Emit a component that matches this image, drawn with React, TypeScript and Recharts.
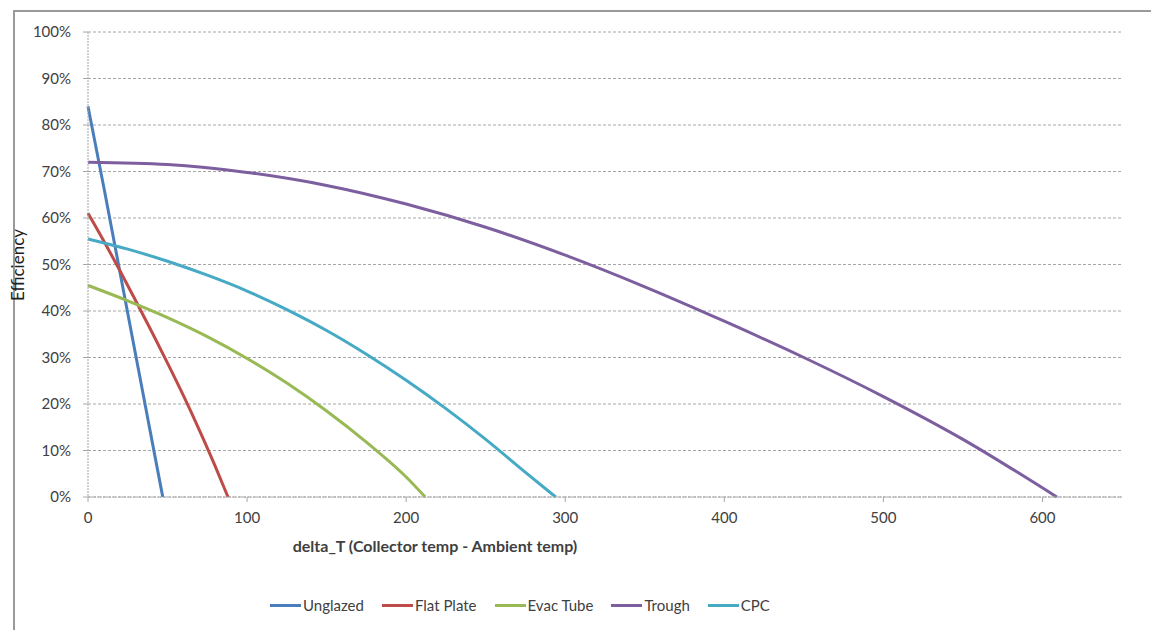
import { LineChart, Line, XAxis, YAxis, CartesianGrid } from "recharts";

// [delta_T, efficiency %]
const unglazed = [[0, 84], [10, 66.5], [20, 48.5], [30, 30.5], [40, 12.5], [47, 0]];
const flatPlate = [[0, 61], [10, 55], [20, 48.7], [30, 42.2], [40, 35.6], [50, 28.8], [60, 21.8], [70, 14.4], [80, 6.6], [88, 0]];
const evacTube = [[0, 45.5], [25, 42.2], [50, 38.6], [75, 34.5], [100, 29.8], [125, 24.5], [150, 18.5], [175, 11.8], [200, 4.3], [212, 0]];
const trough = [[0, 72], [50, 71.5], [100, 69.8], [150, 67], [200, 63], [250, 58], [300, 52], [350, 45.2], [400, 37.8], [450, 30], [500, 21.6], [550, 12.4], [609, 0]];
const cpc = [[0, 55.5], [25, 53.3], [50, 50.7], [75, 47.7], [100, 44.3], [125, 40.3], [150, 35.8], [175, 30.7], [200, 25.1], [225, 19], [250, 12.4], [275, 5.3], [294, 0]];

const xTicks = [0, 100, 200, 300, 400, 500, 600];
const yTicks = [0, 10, 20, 30, 40, 50, 60, 70, 80, 90, 100];

const series = [
  { name: "Unglazed", color: "#4A7EBB", pts: unglazed },
  { name: "Flat Plate", color: "#BE4B48", pts: flatPlate },
  { name: "Evac Tube", color: "#98B954", pts: evacTube },
  { name: "Trough", color: "#7D5FA0", pts: trough },
  { name: "CPC", color: "#46AAC5", pts: cpc },
];

const toRows = (pts: number[][]) => pts.map(([x, y]) => ({ x, y }));

const font = "Lato, 'Open Sans', sans-serif";
const tick = { fill: "#404040", fontSize: 15, fontFamily: font };
const dotted = { stroke: "#a6a6a6", strokeDasharray: "2 1" };

export default function App() {
  return (
    <div style={{ position: "absolute", left: 0, top: 0, width: 1151, height: 630, background: "#fff" }}>
      <div style={{ position: "absolute", left: 13, top: 10, right: 0, bottom: 0, borderLeft: "2px solid #9a9a9a", borderTop: "2px solid #9a9a9a" }} />
      <LineChart width={1151} height={630} margin={{ top: 32, right: 29, bottom: 103, left: 0 }} style={{ position: "absolute", left: 0, top: 0 }}>
        <CartesianGrid vertical={false} stroke="#a6a6a6" strokeDasharray="3 2" />
        <XAxis
          type="number"
          dataKey="x"
          domain={[0, 650]}
          ticks={xTicks}
          allowDuplicatedCategory={false}
          tick={tick}
          tickSize={5}
          tickMargin={10}
          axisLine={dotted}
          tickLine={{ stroke: "#a6a6a6" }}
          label={{
            value: "delta_T (Collector temp - Ambient temp)",
            position: "bottom",
            offset: 14,
            fill: "#404040",
            fontSize: 16,
            fontWeight: "bold",
            fontFamily: font,
            dx: -170,
          }}
        />
        <YAxis
          type="number"
          domain={[0, 100]}
          ticks={yTicks}
          width={88}
          tick={tick}
          tickFormatter={(v) => `${v}%`}
          tickSize={5}
          tickMargin={12}
          axisLine={dotted}
          tickLine={{ stroke: "#a6a6a6" }}
          label={{
            content: () => (
              <text x={24} y={265} transform="rotate(-90, 24, 265)" textAnchor="middle" fill="#202020" fontSize={17} fontFamily={font}>
                Efficiency
              </text>
            ),
          }}
        />
        {series.map((s) => (
          <Line
            key={s.name}
            data={toRows(s.pts)}
            dataKey="y"
            name={s.name}
            type="monotone"
            stroke={s.color}
            strokeWidth={3}
            dot={false}
            isAnimationActive={false}
          />
        ))}
      </LineChart>
      <div style={{ position: "absolute", left: 270, top: 596, display: "flex", alignItems: "center", fontFamily: font, fontSize: 15, color: "#404040" }}>
        {series.map((s) => (
          <div key={s.name} style={{ display: "flex", alignItems: "center", marginRight: 18 }}>
            <div style={{ width: 31, height: 3, background: s.color, marginRight: 2 }} />
            <span>{s.name}</span>
          </div>
        ))}
      </div>
    </div>
  );
}
